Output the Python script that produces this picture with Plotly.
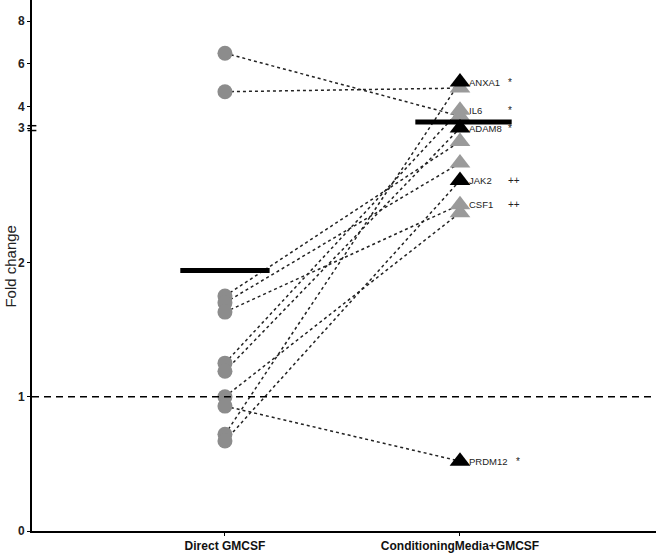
import plotly.graph_objects as go

# categories on the x axis
groups = ["Direct GMCSF", "ConditioningMedia+GMCSF"]

# fold change per gene, Direct GMCSF -> ConditioningMedia+GMCSF
direct_vals = [6.5, 4.7, 1.75, 1.70, 1.63, 1.25, 1.19, 1.00, 0.93, 0.72, 0.67]
cond_vals = [3.56, 4.87, 2.90, 2.74, 2.43, 3.84, 3.00, 2.37, 0.52, 5.15, 2.61]
genes = ["", "", "", "", "CSF1", "IL6", "ADAM8", "", "PRDM12", "ANXA1", "JAK2"]
signif = ["", "", "", "", "++", "*", "*", "", "*", "*", "++"]
highlight = [False, False, False, False, False, False, True, False, True, True, True]

# group means (horizontal bars)
mean_direct = 1.94
mean_cond = 3.28

# y axis ticks
ytick_vals = [0, 1, 2, 3, 4, 6, 8]

# broken axis: above 3 the scale is compressed
K = 0.1594
def brk(v):
    return v if v <= 3 else 3 + (v - 3) * K

fig = go.Figure()

# dashed line at fold change 1
fig.add_shape(type="line", xref="paper", yref="y", x0=0, x1=1, y0=brk(1), y1=brk(1),
              line=dict(color="black", width=1.6, dash="7px,5px"))

# paired lines
for d, c in zip(direct_vals, cond_vals):
    fig.add_trace(go.Scatter(x=[0, 1], y=[brk(d), brk(c)], mode="lines",
                             line=dict(color="#222", width=1.5, dash="dot"),
                             hoverinfo="skip", showlegend=False))

# direct points
fig.add_trace(go.Scatter(x=[0] * len(direct_vals), y=[brk(v) for v in direct_vals],
                         mode="markers", marker=dict(symbol="circle", size=15, color="#8c8c8c"),
                         showlegend=False))

# conditioning points, gray first then black
gray_y = [brk(v) for v, h in zip(cond_vals, highlight) if not h]
black_y = [brk(v) for v, h in zip(cond_vals, highlight) if h]
fig.add_trace(go.Scatter(x=[1] * len(gray_y), y=gray_y, mode="markers",
                         marker=dict(symbol="triangle-up", size=18, color="#9a9a9a"),
                         showlegend=False))
fig.add_trace(go.Scatter(x=[1] * len(black_y), y=black_y, mode="markers",
                         marker=dict(symbol="triangle-up", size=18, color="black"),
                         showlegend=False))

# mean bars
fig.add_trace(go.Scatter(x=[-0.19, 0.19], y=[brk(mean_direct)] * 2, mode="lines",
                         line=dict(color="black", width=5), showlegend=False))
fig.add_trace(go.Scatter(x=[0.81, 1.22], y=[brk(mean_cond)] * 2, mode="lines",
                         line=dict(color="black", width=5), showlegend=False))

# gene labels and significance marks
for g, s, v in zip(genes, signif, cond_vals):
    if g:
        fig.add_annotation(x=1, y=brk(v), text=g, showarrow=False, xanchor="left",
                           xshift=7, font=dict(family="Arial", size=9.5, color="#222"))
    if s:
        fig.add_annotation(x=1, y=brk(v), text=s, showarrow=False, xanchor="left",
                           xshift=46 if g != "PRDM12" else 54,
                           font=dict(family="Arial", size=10, color="#222"))

# axis break marks
for yb in [brk(3) - 0.018, brk(3) + 0.018]:
    fig.add_shape(type="line", xref="paper", yref="y", x0=-0.007, x1=0.007, y0=yb, y1=yb,
                  line=dict(color="black", width=1.5))

fig.add_annotation(xref="paper", yref="y", x=-0.035, y=1.97, text="Fold change",
                   textangle=-90, showarrow=False, xanchor="center",
                   font=dict(family="Arial", size=15, color="#222"))

fig.update_layout(
    width=656, height=556,
    margin=dict(l=32, r=0, t=0, b=25),
    plot_bgcolor="white", paper_bgcolor="white",
    xaxis=dict(range=[-0.821, 1.834], tickvals=[0, 1], ticktext=["<b>" + g + "</b>" for g in groups],
               showline=True, linecolor="black", linewidth=2, ticks="outside", ticklen=3,
               tickcolor="black", showgrid=False, zeroline=False,
               tickfont=dict(family="Arial", size=12, color="#111")),
    yaxis=dict(range=[0, 3.954], tickvals=[brk(v) for v in ytick_vals],
               ticktext=["<b>" + str(v) + "</b>" for v in ytick_vals],
               showline=True, linecolor="black", linewidth=2, ticks="outside", ticklen=3,
               tickcolor="black", showgrid=False, zeroline=False,
               tickfont=dict(family="Arial", size=12, color="#222")),
)

# drop the page's default body margin so the figure sits at the window's corner
fig.write_html("out.html", config={"displayModeBar": False},
               post_script="document.body.style.margin='0';")
